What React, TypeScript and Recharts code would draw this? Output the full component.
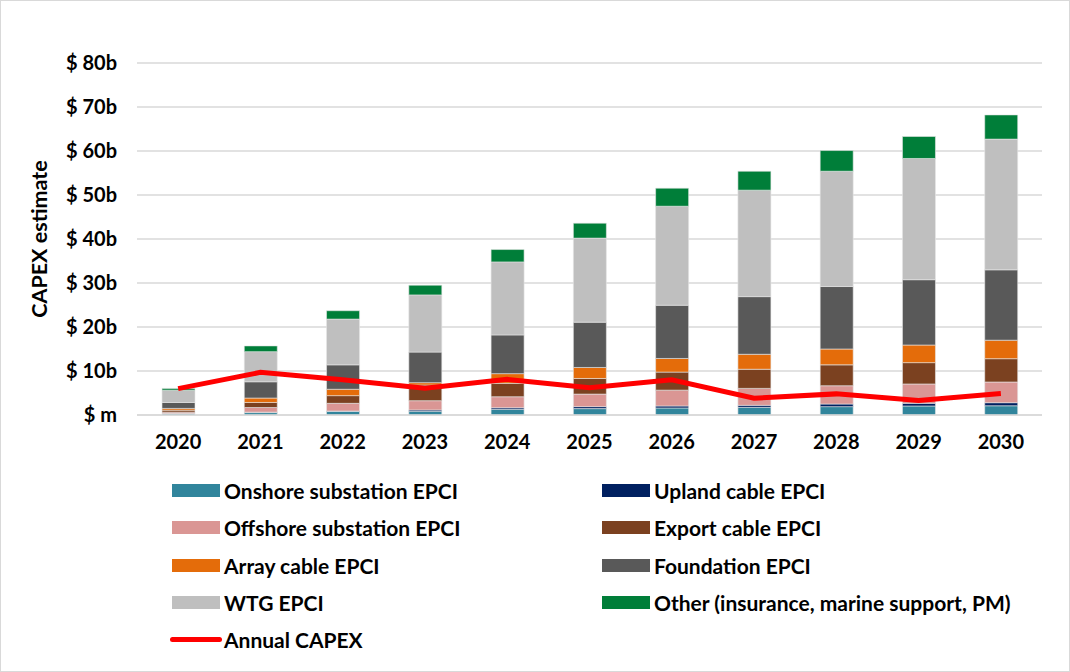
import {
  ComposedChart,
  Bar,
  Line,
  XAxis,
  YAxis,
  CartesianGrid,
  Legend,
} from "recharts";

const years = ["2020", "2021", "2022", "2023", "2024", "2025", "2026", "2027", "2028", "2029", "2030"];

// $ billions
const onshore = [0.3, 0.55, 0.8, 0.85, 1.3, 1.45, 1.6, 1.75, 1.9, 2.05, 2.1];
const upland = [0.05, 0.1, 0.1, 0.3, 0.35, 0.45, 0.45, 0.45, 0.6, 0.6, 0.7];
const offshore = [0.3, 1.05, 1.75, 2.1, 2.5, 2.85, 3.6, 3.85, 4.15, 4.4, 4.7];
const exportCable = [0.45, 1.15, 1.75, 3.55, 3.05, 3.55, 4.1, 4.35, 4.75, 4.85, 5.3];
const arrayCable = [0.4, 1.0, 1.45, 0.55, 2.2, 2.5, 3.1, 3.4, 3.6, 4.0, 4.2];
const foundation = [1.35, 3.7, 5.55, 6.95, 8.8, 10.3, 12.1, 13.1, 14.2, 14.85, 16.0];
const wtg = [2.8, 6.85, 10.4, 13.0, 16.6, 19.1, 22.5, 24.2, 26.2, 27.55, 29.7];
const other = [0.4, 1.3, 1.9, 2.2, 2.8, 3.4, 4.1, 4.3, 4.7, 5.0, 5.5];
const annualCapex = [6.0, 9.7, 8.0, 6.1, 8.1, 6.2, 8.0, 3.8, 4.8, 3.3, 4.9];

const yTicks = [0, 10, 20, 30, 40, 50, 60, 70, 80];

const series = [
  { key: "onshore", name: "Onshore substation EPCI", color: "#31859C", values: onshore },
  { key: "upland", name: "Upland cable EPCI", color: "#002060", values: upland },
  { key: "offshore", name: "Offshore substation EPCI", color: "#DA9694", values: offshore },
  { key: "exportCable", name: "Export cable EPCI", color: "#7B4120", values: exportCable },
  { key: "arrayCable", name: "Array cable EPCI", color: "#E46C0A", values: arrayCable },
  { key: "foundation", name: "Foundation EPCI", color: "#595959", values: foundation },
  { key: "wtg", name: "WTG EPCI", color: "#BFBFBF", values: wtg },
  { key: "other", name: "Other (insurance, marine support, PM)", color: "#007E39", values: other },
];

const data = years.map((year, i) => {
  const row: Record<string, string | number> = { year, capex: annualCapex[i] };
  series.forEach((s) => {
    row[s.key] = s.values[i];
  });
  return row;
});

const FONT = "Lato, 'Liberation Sans', sans-serif";

const renderLegend = () => {
  const items = [
    ...series.map((s) => ({ name: s.name, color: s.color, line: false })),
    { name: "Annual CAPEX", color: "#FF0000", line: true },
  ];
  return (
    <div
      style={{
        display: "grid",
        gridTemplateColumns: "430px 440px",
        rowGap: 14.3,
        fontFamily: FONT,
        fontWeight: 700,
        fontSize: 21,
        color: "#000",
        textAlign: "left",
      }}
    >
      {items.map((it) => (
        <div key={it.name} style={{ display: "flex", alignItems: "center", height: 23 }}>
          {it.line ? (
            <span
              style={{ width: 52, height: 5, borderRadius: 3, background: it.color, marginLeft: -2, marginRight: 2 }}
            />
          ) : (
            <span style={{ width: 48, height: 13, background: it.color, marginRight: 4 }} />
          )}
          <span>{it.name}</span>
        </div>
      ))}
    </div>
  );
};

const renderYTitle = (props: any) => {
  const { viewBox } = props;
  const cx = viewBox.x + 38;
  const cy = viewBox.y + viewBox.height / 2;
  return (
    <text
      x={cx}
      y={cy}
      transform={`rotate(-90, ${cx}, ${cy})`}
      textAnchor="middle"
      dominantBaseline="central"
      style={{ fontFamily: FONT, fontWeight: 700, fontSize: 21.5, fill: "#000" }}
    >
      CAPEX estimate
    </text>
  );
};

export default function App() {
  return (
    <div
      style={{
        position: "absolute",
        left: 0,
        top: 0,
        width: 1070,
        height: 672,
        background: "#fff",
        border: "1px solid #D9D9D9",
        boxSizing: "border-box",
      }}
    >
      <ComposedChart
        width={1068}
        height={670}
        data={data}
        margin={{ top: 62, right: 27, left: 0, bottom: 216 }}
        barSize={33}
      >
        <CartesianGrid vertical={false} stroke="#D9D9D9" strokeWidth={1.5} />
        <XAxis
          dataKey="year"
          axisLine={{ stroke: "#D9D9D9", strokeWidth: 1.5 }}
          tickLine={false}
          tickMargin={14}
          height={40}
          tick={{ fill: "#000", fontFamily: FONT, fontWeight: 700, fontSize: 20 }}
        />
        <YAxis
          width={136}
          domain={[0, 80]}
          ticks={yTicks}
          axisLine={false}
          tickLine={false}
          tickMargin={14}
          tickFormatter={(v: number) => (v === 0 ? "$ m" : `$ ${v}b`)}
          tick={{ fill: "#000", fontFamily: FONT, fontWeight: 700, fontSize: 20 }}
          label={{ content: renderYTitle }}
        />
        {series.map((s) => (
          <Bar
            key={s.key}
            dataKey={s.key}
            name={s.name}
            stackId="capex"
            fill={s.color}
            stroke="#E6E6E6"
            strokeWidth={0.6}
            isAnimationActive={false}
          />
        ))}
        <Line
          type="linear"
          dataKey="capex"
          name="Annual CAPEX"
          stroke="#FF0000"
          strokeWidth={5}
          dot={false}
          isAnimationActive={false}
        />
        <Legend
          content={renderLegend}
          layout="horizontal"
          verticalAlign="middle"
          align="center"
          wrapperStyle={{ position: "absolute", left: 171, top: 478, width: 880 }}
        />
      </ComposedChart>
    </div>
  );
}
